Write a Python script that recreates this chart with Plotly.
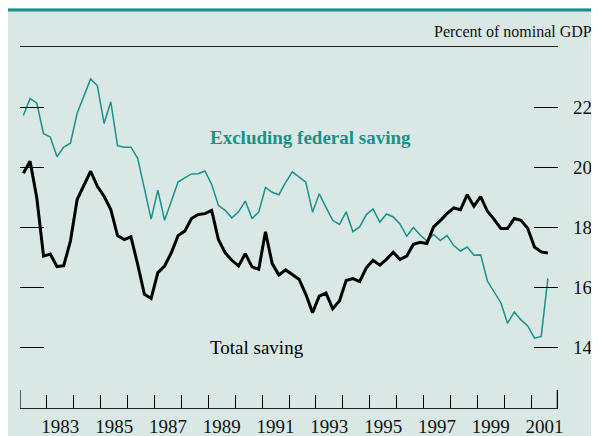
import plotly.graph_objects as go

# Quarterly data, 1982Q1 - 2001Q3, percent of nominal GDP
first_year = 1982
total_saving = [
    19.80, 20.20, 18.98, 17.05, 17.12, 16.70, 16.73, 17.55, 18.93, 19.39,
    19.87, 19.37, 19.04, 18.60, 17.73, 17.60, 17.69, 16.77, 15.78, 15.64,
    16.50, 16.72, 17.16, 17.73, 17.88, 18.30, 18.43, 18.46, 18.57, 17.60,
    17.16, 16.91, 16.72, 17.13, 16.69, 16.61, 17.86, 16.80, 16.42, 16.59,
    16.42, 16.28, 15.78, 15.17, 15.72, 15.82, 15.30, 15.56, 16.24, 16.30,
    16.20, 16.66, 16.91, 16.75, 16.94, 17.18, 16.94, 17.05, 17.44, 17.51,
    17.47, 18.02, 18.23, 18.46, 18.65, 18.59, 19.09, 18.71, 19.03, 18.54,
    18.27, 17.97, 17.97, 18.30, 18.24, 17.97, 17.35, 17.19, 17.15,
]
excl_federal = [
    21.72, 22.29, 22.13, 21.12, 21.01, 20.35, 20.67, 20.80, 21.80, 22.37,
    22.94, 22.72, 21.46, 22.18, 20.72, 20.67, 20.67, 20.30, 19.26, 18.28,
    19.24, 18.24, 18.87, 19.51, 19.65, 19.78, 19.79, 19.88, 19.43, 18.74,
    18.57, 18.32, 18.52, 18.88, 18.30, 18.51, 19.33, 19.17, 19.09, 19.50,
    19.85, 19.69, 19.51, 18.51, 19.12, 18.67, 18.24, 18.10, 18.52, 17.86,
    18.02, 18.43, 18.62, 18.18, 18.45, 18.35, 18.12, 17.71, 18.00, 17.75,
    17.55, 17.77, 17.57, 17.73, 17.40, 17.22, 17.35, 17.08, 17.09, 16.22,
    15.86, 15.50, 14.82, 15.19, 14.93, 14.73, 14.32, 14.38, 16.31,
]
year_ticks = list(range(1982, 2003))
label_years = list(range(1983, 2002, 2))
y_ticks = [14, 16, 18, 20, 22]

# mid-quarter positions on a decimal-year axis
dates = [first_year + 0.125 + 0.25 * i for i in range(len(total_saving))]

PANEL = "#d9e8e5"
TEAL = "#17928a"
SERIF = "Liberation Serif, Times New Roman, serif"

fig = go.Figure()

fig.add_trace(go.Scatter(
    x=dates, y=excl_federal, mode="lines",
    line=dict(color=TEAL, width=1.5),
    showlegend=False, hoverinfo="skip",
))
fig.add_trace(go.Scatter(
    x=dates, y=total_saving, mode="lines",
    line=dict(color="black", width=3),
    showlegend=False, hoverinfo="skip",
))
# invisible trace so the label axis (x2) is drawn
fig.add_trace(go.Scatter(
    x=[None], y=[None], xaxis="x2", mode="lines",
    showlegend=False, hoverinfo="skip",
))

fig.add_annotation(
    x=1989.0, y=21.0, xref="x", yref="y", xanchor="left",
    text="<b>Excluding federal saving</b>", showarrow=False,
    font=dict(family=SERIF, size=19, color=TEAL),
)
fig.add_annotation(
    x=1989.0, y=14.0, xref="x", yref="y", xanchor="left",
    text="Total saving", showarrow=False,
    font=dict(family=SERIF, size=19, color="black"),
)
fig.add_annotation(
    x=1.0669, y=1.0443, xref="paper", yref="paper",
    xanchor="right", yanchor="middle",
    text="Percent of nominal GDP", showarrow=False,
    font=dict(family=SERIF, size=16, color="#111111"),
)

# teal rule along the top edge
fig.add_shape(type="line", xref="paper", yref="paper",
              x0=-0.03, x1=1.2, y0=1.1025, y1=1.1025,
              line=dict(color=TEAL, width=3))

# longer end ticks on the time axis
fig.add_shape(type="line", xref="x", yref="paper",
              x0=year_ticks[0], x1=year_ticks[0], y0=0, y1=0.05,
              line=dict(color="black", width=1.2))
fig.add_shape(type="line", xref="x", yref="paper",
              x0=year_ticks[-1], x1=year_ticks[-1], y0=0, y1=0.05,
              line=dict(color="black", width=2.5))

fig.update_layout(
    width=599, height=436,
    margin=dict(l=12, r=49, t=39, b=36),
    paper_bgcolor=PANEL, plot_bgcolor=PANEL,
    xaxis=dict(
        range=[year_ticks[0], year_ticks[-1]],
        tickmode="array", tickvals=year_ticks,
        ticktext=["" for _ in year_ticks],
        ticks="inside", ticklen=13, tickcolor="black", tickwidth=1.2,
        showgrid=False, zeroline=False, automargin=False,
        showline=True, linecolor="#222222", linewidth=1.2, mirror=True,
    ),
    xaxis2=dict(
        range=[year_ticks[0], year_ticks[-1]],
        overlaying="x", side="bottom", anchor="y",
        tickmode="array",
        tickvals=[y + 0.5 for y in label_years],
        ticktext=[str(y) for y in label_years],
        ticks="", showgrid=False, zeroline=False, showline=False,
        automargin=False, ticklabelstandoff=5,
        tickfont=dict(family=SERIF, size=19, color="#111111"),
    ),
    yaxis=dict(
        range=[12, 24], side="right",
        tickmode="array", tickvals=y_ticks,
        ticks="inside", ticklen=24, tickcolor="black", tickwidth=1,
        mirror="ticks", showline=False, automargin=False,
        showgrid=False, zeroline=False,
        ticklabelstandoff=14,
        tickfont=dict(family=SERIF, size=19, color="#111111"),
    ),
)

fig.write_html("out.html")
